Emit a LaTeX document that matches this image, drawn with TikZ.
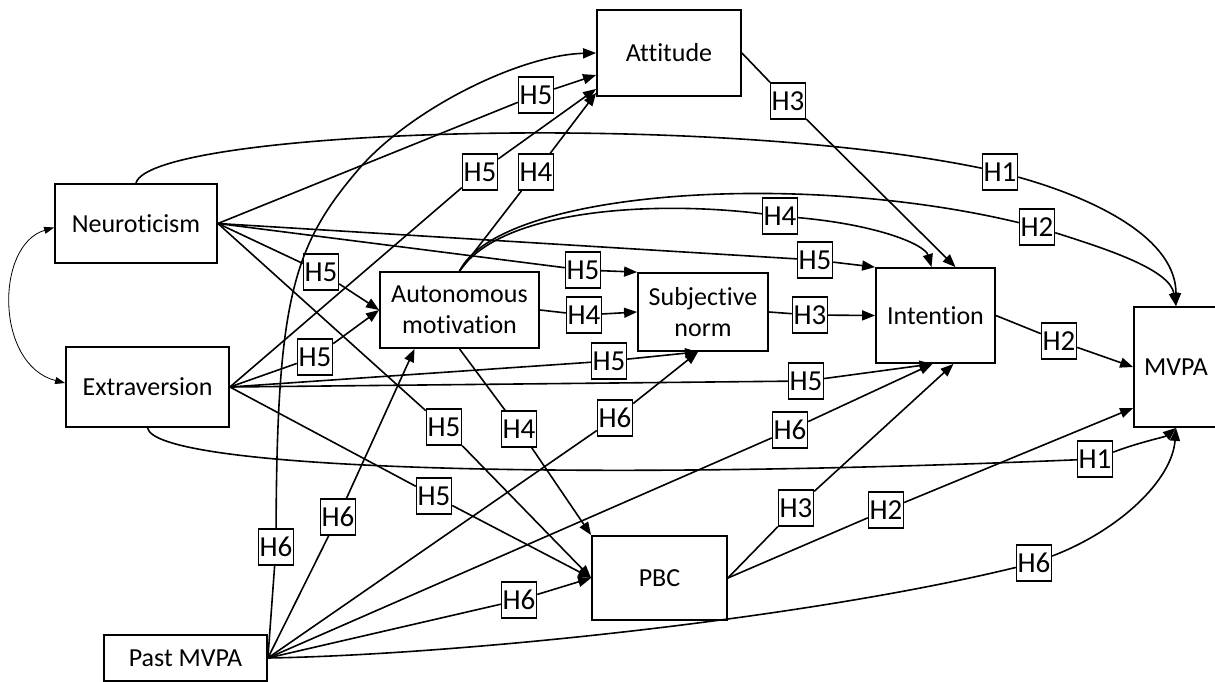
\documentclass[tikz,border=0pt]{standalone}
\usepackage{fontspec}
\setmainfont{Carlito}[Ligatures={NoCommon}]
\usetikzlibrary{arrows.meta}
\tikzstyle{var}=[draw,line width=1.8pt,align=center,inner sep=0pt,font=\fontsize{26}{31}\selectfont]
\tikzstyle{hyp}=[draw,line width=1.4pt,inner sep=0pt,minimum width=35pt,minimum height=36pt,font=\fontsize{29}{30}\selectfont]
\tikzstyle{relhead}=[>/.tip={Triangle[length=13pt,width=10pt]}]
\tikzstyle{rel}=[line width=1.6pt,relhead,->]
\tikzstyle{cor}=[line width=0.8pt,>/.tip={Triangle[length=10pt,width=7pt]},<->]
\begin{document}
\begin{tikzpicture}[x=1pt,y=-1pt]
	\useasboundingbox (0,0) rectangle (1215,682);
	\node[var,minimum width=144pt,minimum height=86pt]  (att)  at (669,53)      {Attitude};
	\node[var,minimum width=162pt,minimum height=79pt]  (neu)  at (136,223.5)   {Neuroticism};
	\node[var,minimum width=163pt,minimum height=80pt]  (ext)  at (147.5,387)   {Extraversion};
	\node[var,minimum width=159pt,minimum height=76pt]  (aut)  at (459.5,310)   {Autonomous\\motivation};
	\node[var,minimum width=130pt,minimum height=78pt]  (sub)  at (703,312)     {Subjective\\norm};
	\node[var,minimum width=119pt,minimum height=95pt]  (int)  at (935.5,315.5) {Intention};
	\node[var,minimum width=84pt,minimum height=120pt]  (mvpa) at (1176,367)    {MVPA};
	\node[var,minimum width=135pt,minimum height=84pt]  (pbc)  at (659.5,578)   {PBC};
	\node[var,minimum width=163pt,minimum height=46pt]  (past) at (185.5,658)   {Past MVPA};
	%
	\node[hyp] (h1n) at (1000,172) {H1};
	\node[hyp] (h1e) at (1095,459) {H1};
	\node[hyp] (h2a) at (1037,227) {H2};
	\node[hyp] (h2i) at (1059,341) {H2};
	\node[hyp] (h2p) at (886,510)  {H2};
	\node[hyp] (h3a) at (788,101)  {H3};
	\node[hyp] (h3s) at (810,315)  {H3};
	\node[hyp] (h3p) at (796,508)  {H3};
	\node[hyp] (h4t) at (536,172)  {H4};
	\node[hyp] (h4s) at (584,315)  {H4};
	\node[hyp] (h4i) at (780,216)  {H4};
	\node[hyp] (h4p) at (519,429)  {H4};
	\node[hyp] (h5na) at (536,95)  {H5};
	\node[hyp] (h5nm) at (321,272) {H5};
	\node[hyp] (h5ns) at (583,270) {H5};
	\node[hyp] (h5ni) at (815,260) {H5};
	\node[hyp] (h5np) at (444,427) {H5};
	\node[hyp] (h5ea) at (480,172) {H5};
	\node[hyp] (h5em) at (315,357) {H5};
	\node[hyp] (h5es) at (609,361) {H5};
	\node[hyp] (h5ei) at (806,381) {H5};
	\node[hyp] (h5ep) at (434,496) {H5};
	\node[hyp] (h6a) at (276,547)  {H6};
	\node[hyp] (h6m) at (338,517)  {H6};
	\node[hyp] (h6s) at (615,418)  {H6};
	\node[hyp] (h6i) at (790,430)  {H6};
	\node[hyp] (h6p) at (519,600)  {H6};
	\node[hyp] (h6v) at (1034,563) {H6};
%
	\draw[cor] ([yshift=-4pt]neu.west) .. controls (-5,245) and (-5,365) .. ([yshift=4pt]ext.west);
	% neuroticism
	\draw[rel] (neu.east) -- (h5na) -- ([yshift=-22pt]att.west);
	\draw[rel] (neu.east) -- (h5nm) -- (aut.west);
	\draw[rel] (neu.east) -- (h5ns) -- (sub.north west);
	\draw[rel] (neu.east) -- (h5ni) -- (int.north west);
	\draw[rel] (neu.east) -- (h5np) -- (pbc.west);
	\draw[rel] (neu.north) .. controls (150,130) and (700,110) .. (h1n) .. controls (1100,200) and (1176,240) .. (mvpa.north);
	% extraversion
	\draw[rel] (ext.east) -- (h5ea) -- ([yshift=8pt]att.south west);
	\draw[rel] (ext.east) -- (h5em) -- (aut.west);
	\draw[rel] (ext.east) -- (h5es) -- ([xshift=-5pt]sub.south);
	\draw[rel] (ext.east) -- (h5ei) -- ([xshift=-3pt]int.south);
	\draw[rel] (ext.east) -- (h5ep) -- (pbc.west);
	\draw[rel] (ext.south) .. controls (155,468) and (550,482) .. (h1e) .. controls (1140,442) and (1165,437) .. (mvpa.south);
	% past MVPA
	\draw[rel] (past.east) -- (h6a) .. controls (277,300) and (293,246) .. (358,170) .. controls (410,109) and (520,55) .. (att.west);
	\draw[rel] (past.east) -- (h6m) -- ([xshift=-45pt]aut.south);
	\draw[rel] (past.east) -- (h6s) -- ([xshift=-5pt]sub.south);
	\draw[rel] (past.east) -- (h6i) -- ([xshift=-3pt]int.south);
	\draw[rel] (past.east) -- (h6p) -- (pbc.west);
	\draw[rel] (past.east) .. controls (450,655) and (800,620) .. (h6v) .. controls (1120,530) and (1172,480) .. (mvpa.south);
	% autonomous motivation
	\draw[rel] (aut.north) -- (h4t) -- ([yshift=4pt]att.south west);
	\draw[rel] (aut.east) -- (h4s) -- (sub.west);
	\draw[rel] (aut.north) .. controls (500,210) and (650,200) .. (h4i) .. controls (880,225) and (925,245) .. ([xshift=-4pt]int.north);
	\draw[rel] (aut.north) .. controls (500,190) and (800,170) .. (h2a) .. controls (1110,250) and (1170,270) .. (mvpa.north);
	\draw[rel] (aut.south) -- (h4p) -- (pbc.north west);
	% attitude, norm, PBC, intention
	\draw[rel] (att.east) -- (h3a) -- ([xshift=20pt]int.north);
	\draw[rel] (sub.east) -- (h3s) -- (int.west);
	\draw[rel] (int.east) -- (h2i) -- (mvpa.west);
	\draw[rel] (pbc.east) -- (h3p) -- ([xshift=18pt]int.south);
	\draw[rel] (pbc.east) -- (h2p) -- ([yshift=-41pt]mvpa.west);
\end{tikzpicture}
\end{document}
